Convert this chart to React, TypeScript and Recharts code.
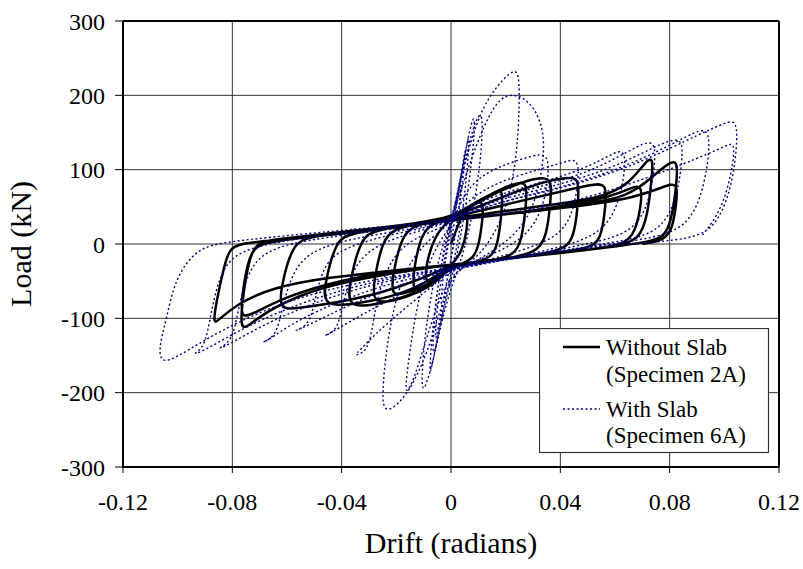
import { LineChart, Line, XAxis, YAxis, CartesianGrid, ReferenceLine, Legend } from 'recharts';

// drift (rad), load (kN) pairs
type Pt = [number, number];

// Specimen 2A (without slab)
const noSlabEarly: Pt[] = [
  [0, 0], [0.002, 20], [0.004, 38], [0.006, 45], [0.006, 20], [0.004, -10], [0.001, -25],
  [-0.003, -38], [-0.007, -48], [-0.0095, -52], [-0.009, -25], [-0.006, 10], [-0.002, 28], [0.001, 35],
  [0.004, 42], [0.008, 54], [0.012, 60], [0.0115, 30], [0.01, -5], [0.008, -20], [0.003, -28],
  [-0.003, -40], [-0.008, -54], [-0.012, -61], [-0.014, -62], [-0.0135, -30], [-0.011, 10],
  [-0.008, 25], [-0.003, 32], [0.001, 36],
  [0.006, 47], [0.012, 62], [0.017, 71], [0.019, 73], [0.0185, 40], [0.017, -5], [0.014, -20],
  [0.007, -26], [0, -30], [-0.005, -46], [-0.011, -60], [-0.018, -67], [-0.022, -69],
  [-0.021, -35], [-0.018, 10], [-0.014, 24], [-0.007, 30], [0, 35],
  [0.006, 50], [0.014, 66], [0.022, 80], [0.028, 86], [0.0275, 55], [0.026, 5], [0.023, -16],
  [0.015, -22], [0.006, -27], [0, -30], [-0.005, -50], [-0.012, -66], [-0.021, -77],
  [-0.029, -80], [-0.028, -45], [-0.025, 5], [-0.021, 20], [-0.012, 28], [0, 36],
];

const noSlabMid: Pt[] = [
  [0.008, 52], [0.018, 72], [0.028, 86], [0.037, 93], [0.0365, 60], [0.035, 8], [0.031, -12],
  [0.02, -20], [0.008, -26], [0, -30], [-0.006, -52], [-0.015, -70], [-0.028, -82], [-0.038, -86],
  [-0.037, -50], [-0.033, 8], [-0.028, 18], [-0.015, 27], [0, 36],
  [0.01, 50], [0.022, 68], [0.034, 84], [0.042, 89], [0.047, 90], [0.0465, 55], [0.045, 5],
  [0.04, -10], [0.025, -17], [0.01, -24], [0, -29], [-0.008, -50], [-0.02, -70], [-0.035, -81],
  [-0.047, -85], [-0.046, -50], [-0.042, 5], [-0.037, 14], [-0.02, 24], [0, 35],
  [0.012, 46], [0.028, 60], [0.044, 74], [0.052, 80], [0.057, 82], [0.0565, 50], [0.055, 5],
  [0.05, -7], [0.03, -15], [0.01, -24], [0, -28], [-0.01, -46], [-0.025, -66], [-0.045, -81],
  [-0.056, -86], [-0.063, -89], [-0.062, -55], [-0.058, 0], [-0.052, 10], [-0.03, 20], [0, 34],
];

const noSlabLate: Pt[] = [
  [0.015, 42], [0.035, 52], [0.055, 62], [0.065, 80], [0.071, 110], [0.074, 118], [0.0735, 90],
  [0.072, 40], [0.069, 5], [0.06, -4], [0.04, -12], [0.02, -20], [0, -28], [-0.02, -38],
  [-0.04, -52], [-0.055, -68], [-0.068, -92], [-0.074, -110], [-0.077, -115], [-0.0765, -80],
  [-0.074, -20], [-0.071, 2], [-0.065, 6], [-0.04, 16], [-0.02, 24], [0, 33],
  [0.02, 40], [0.04, 50], [0.06, 65], [0.066, 76], [0.07, 80], [0.0695, 50], [0.067, 8],
  [0.06, -4], [0.04, -12], [0.02, -20], [0, -28], [-0.02, -36], [-0.04, -48], [-0.06, -70],
  [-0.072, -93], [-0.077, -101], [-0.0765, -70], [-0.074, -15], [-0.07, 3], [-0.05, 10],
  [-0.02, 22], [0, 32],
  [0.02, 40], [0.045, 52], [0.065, 62], [0.075, 95], [0.08, 110], [0.083, 112], [0.0825, 80],
  [0.081, 40], [0.079, 15], [0.075, 3], [0.05, -8], [0.025, -18], [0, -28], [-0.02, -35],
  [-0.045, -45], [-0.065, -58], [-0.078, -80], [-0.085, -102], [-0.087, -108], [-0.086, -80],
  [-0.083, -30], [-0.081, -4], [-0.075, 2], [-0.05, 10], [-0.025, 20], [0, 32],
  [0.02, 40], [0.045, 50], [0.065, 60], [0.078, 77], [0.083, 84], [0.0825, 55], [0.081, 20],
  [0.078, 5], [0.07, 0],
];

// Specimen 6A (with slab)
const slabEarly: Pt[] = [
  [0, 0], [0.002, 50], [0.004, 100], [0.003, 40], [0, -20], [-0.002, -60], [-0.004, -100],
  [-0.003, -40], [0, 20],
  [0.003, 70], [0.005, 125], [0.0055, 130], [0.004, 70], [0.001, 0], [-0.002, -60],
  [-0.005, -120], [-0.006, -135], [-0.005, -80], [-0.002, -10], [0, 25],
  [0.003, 80], [0.006, 140], [0.007, 150], [0.005, 60], [0.002, -10], [-0.002, -70],
  [-0.005, -130], [-0.007, -160], [-0.006, -90], [-0.003, -10], [0, 30],
  [0.004, 95], [0.007, 160], [0.009, 178], [0.008, 120], [0.005, 40], [0.002, -20],
  [-0.003, -90], [-0.007, -165], [-0.008, -180], [-0.007, -120], [-0.004, -30], [0, 25],
  [0.004, 90], [0.008, 160], [0.012, 187], [0.011, 110], [0.007, 20], [0.003, -30],
  [-0.002, -80], [-0.006, -150], [-0.009, -190], [-0.011, -202], [-0.01, -130], [-0.006, -40],
  [-0.002, 10], [0, 30],
];

const slabPeak: Pt[] = [
  [0.005, 110], [0.01, 170], [0.014, 198], [0.019, 222], [0.023, 234], [0.025, 230],
  [0.025, 180], [0.024, 113], [0.02, 40], [0.012, -10], [0.005, -30], [0, -45], [-0.004, -90],
  [-0.009, -150], [-0.015, -197], [-0.021, -222], [-0.025, -225], [-0.025, -190],
  [-0.023, -120], [-0.018, -40], [-0.01, 0], [-0.003, 20], [0, 30],
  [0.006, 100], [0.012, 160], [0.018, 200], [0.025, 202], [0.031, 182], [0.034, 150],
  [0.034, 110], [0.03, 40], [0.02, 0], [0.008, -25], [0, -40], [-0.005, -80], [-0.01, -140],
  [-0.014, -187], [-0.017, -205], [-0.016, -170], [-0.013, -90], [-0.008, -20], [-0.002, 15],
  [0, 25],
  [0.005, 70], [0.012, 95], [0.022, 110], [0.03, 119], [0.035, 122], [0.036, 100], [0.034, 50],
  [0.028, 10], [0.015, -15], [0, -35], [-0.008, -60], [-0.018, -90], [-0.028, -122],
  [-0.033, -142], [-0.036, -151], [-0.031, -146], [-0.029, -120], [-0.027, -70], [-0.022, -20],
  [-0.015, 5], [-0.005, 20], [0, 28],
];

const slabLate: Pt[] = [
  [0.006, 60], [0.018, 85], [0.032, 100], [0.042, 111], [0.046, 115], [0.047, 95], [0.045, 45],
  [0.04, 10], [0.025, -10], [0.01, -25], [0, -35], [-0.012, -55], [-0.025, -80], [-0.038, -106],
  [-0.045, -122], [-0.047, -124], [-0.042, -118], [-0.04, -90], [-0.037, -40], [-0.03, -5],
  [-0.015, 15], [0, 28],
  [0.008, 55], [0.025, 75], [0.045, 95], [0.057, 117], [0.063, 129], [0.064, 110], [0.062, 60],
  [0.056, 15], [0.04, -5], [0.02, -20], [0, -35], [-0.015, -50], [-0.03, -70], [-0.045, -96],
  [-0.055, -114], [-0.058, -118], [-0.052, -110], [-0.05, -80], [-0.047, -30], [-0.04, -5],
  [-0.02, 15], [0, 28],
  [0.01, 55], [0.03, 75], [0.05, 95], [0.066, 127], [0.074, 142], [0.075, 120], [0.073, 60],
  [0.067, 15], [0.05, 0], [0.025, -18], [0, -35], [-0.02, -50], [-0.04, -75], [-0.058, -106],
  [-0.067, -130], [-0.07, -134], [-0.064, -125], [-0.062, -90], [-0.058, -35], [-0.05, -5],
  [-0.03, 12], [0, 28],
  [0.012, 55], [0.035, 75], [0.058, 100], [0.075, 132], [0.084, 145], [0.085, 125], [0.083, 65],
  [0.077, 15], [0.06, 2], [0.03, -15], [0, -33], [-0.025, -50], [-0.05, -78], [-0.07, -111],
  [-0.082, -137], [-0.086, -142], [-0.08, -132], [-0.078, -90], [-0.074, -30], [-0.065, -2],
  [-0.04, 12], [0, 30],
  [0.015, 55], [0.04, 75], [0.065, 105], [0.085, 142], [0.093, 158], [0.095, 140], [0.093, 80],
  [0.087, 20], [0.07, 5], [0.035, -12], [0, -33], [-0.03, -50], [-0.06, -85], [-0.08, -121],
  [-0.091, -145], [-0.095, -149], [-0.09, -140], [-0.088, -95], [-0.084, -30], [-0.075, -2],
  [-0.04, 15], [0, 30],
  [0.015, 55], [0.045, 78], [0.07, 110], [0.092, 150], [0.101, 164], [0.104, 166], [0.105, 145],
  [0.103, 80], [0.098, 30], [0.09, 5], [0.06, 0], [0.03, -14], [0, -32], [-0.03, -48],
  [-0.06, -75], [-0.085, -117], [-0.1, -152], [-0.106, -161], [-0.107, -140], [-0.104, -100],
  [-0.101, -46], [-0.093, -6], [-0.083, 3], [-0.05, 15], [-0.02, 25], [0, 32],
  [0.02, 40], [0.05, 60], [0.08, 100], [0.1, 130], [0.104, 140], [0.103, 100], [0.099, 45],
  [0.092, 12],
];

const driftTicks = [-0.12, -0.08, -0.04, 0, 0.04, 0.08, 0.12];
const loadTicks = [-300, -200, -100, 0, 100, 200, 300];

const toRows = (pts: Pt[]) => pts.map(([drift, load]) => ({ drift, load }));
const noSlabData = toRows([...noSlabEarly, ...noSlabMid, ...noSlabLate]);
const slabData = toRows([...slabEarly, ...slabPeak, ...slabLate]);

const FONT = '"Liberation Serif", "Times New Roman", serif';
const NAVY = '#000080';

const LegendBox = () => (
  <svg width={231} height={126} style={{ display: 'block' }}>
    <rect x={0.5} y={0.5} width={229} height={124} fill="#fff" stroke="#333" strokeWidth={1.2} />
    <line x1={24} y1={19} x2={61} y2={19} stroke="#000" strokeWidth={2.5} />
    <text x={67} y={27} fontSize={23} fontFamily={FONT} fill="#000">Without Slab</text>
    <text x={67} y={54} fontSize={23} fontFamily={FONT} fill="#000">(Specimen 2A)</text>
    <line x1={24} y1={81} x2={61} y2={81} stroke={NAVY} strokeWidth={1.5} strokeDasharray="2 2.5" />
    <text x={67} y={89} fontSize={23} fontFamily={FONT} fill="#000">With Slab</text>
    <text x={67} y={115} fontSize={23} fontFamily={FONT} fill="#000">(Specimen 6A)</text>
  </svg>
);

const App = () => {
  return (
    <div style={{ position: 'absolute', left: 0, top: 0, background: '#fff' }}>
      <LineChart width={803} height={569} margin={{ top: 21, right: 24, bottom: 0, left: 0 }}>
        <CartesianGrid stroke="#333" strokeWidth={1} />
        <XAxis
          dataKey="drift"
          type="number"
          domain={[-0.12, 0.12]}
          ticks={driftTicks}
          height={102}
          axisLine={{ stroke: '#000', strokeWidth: 2 }}
          tickLine={{ stroke: '#000' }}
          tickSize={6}
          tickMargin={20}
          tick={{ fill: '#000', fontSize: 24, fontFamily: FONT }}
          label={() => (
            <text x={451} y={553} textAnchor="middle" fontSize={30} fontFamily={FONT} fill="#000">
              Drift (radians)
            </text>
          )}
        />
        <YAxis
          dataKey="load"
          type="number"
          domain={[-300, 300]}
          ticks={loadTicks}
          width={123}
          axisLine={{ stroke: '#000', strokeWidth: 2 }}
          tickLine={{ stroke: '#000' }}
          tickSize={8}
          tickMargin={10}
          tick={{ fill: '#000', fontSize: 24, fontFamily: FONT }}
          label={() => (
            <text
              x={31}
              y={244}
              textAnchor="middle"
              fontSize={30}
              fontFamily={FONT}
              fill="#000"
              transform="rotate(-90 31 244)"
            >
              Load (kN)
            </text>
          )}
        />
        <ReferenceLine y={300} stroke="#000" strokeWidth={2} />
        <ReferenceLine x={0.12} stroke="#000" strokeWidth={2} />
        <Line
          data={noSlabData}
          dataKey="load"
          name="Without Slab"
          type="basis"
          stroke="#000"
          strokeWidth={2.5}
          dot={false}
          activeDot={false}
          isAnimationActive={false}
        />
        <Line
          data={slabData}
          dataKey="load"
          name="With Slab"
          type="basis"
          stroke={NAVY}
          strokeWidth={1.4}
          strokeDasharray="2 2.5"
          dot={false}
          activeDot={false}
          isAnimationActive={false}
        />
        <Legend
          layout="vertical"
          align="center"
          verticalAlign="middle"
          content={() => <LegendBox />}
          wrapperStyle={{ left: 539, top: 328, width: 231, height: 126, bottom: 'auto' }}
        />
      </LineChart>
    </div>
  );
};

export default App;
